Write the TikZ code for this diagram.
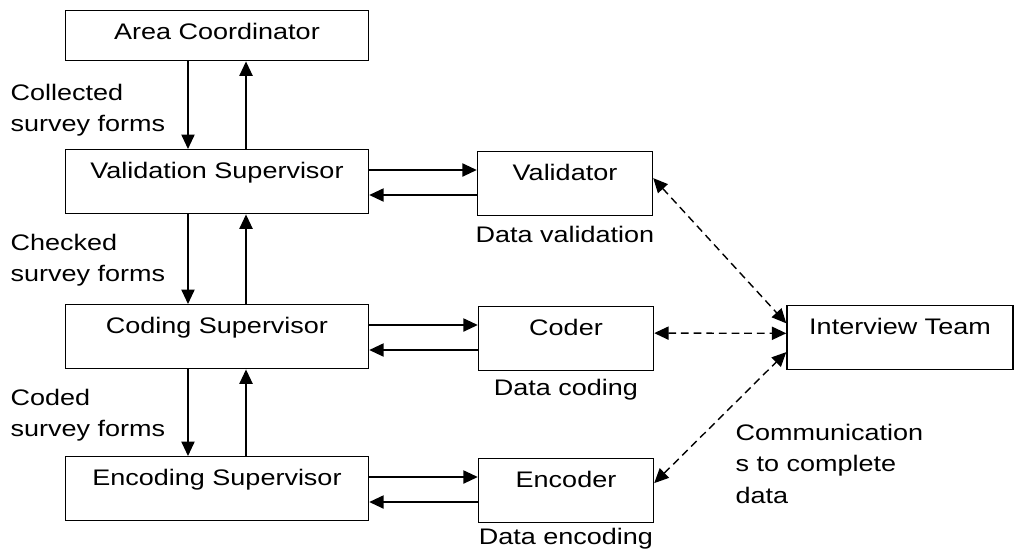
\documentclass[tikz,border=0pt]{standalone}
\usepackage{fontspec}
\setmainfont{Liberation Sans}[FakeStretch=1.2]
\usetikzlibrary{arrows.meta,calc}

\begin{document}
\begin{tikzpicture}[x=0.025cm, y=-0.025cm,
    font=\fontsize{16pt}{22.7pt}\selectfont,
    line width=1pt,
    >={Triangle[length=0.36cm,width=0.33cm]},
    box/.style={draw, inner sep=0pt, anchor=north, text height=0.725cm, text depth=0.875cm},
    bigbox/.style={box, minimum width=7.575cm},
    smallbox/.style={box, minimum width=4.375cm},
    task/.style={anchor=north, inner sep=0pt},
    note/.style={anchor=north west, inner sep=0pt, align=left},
    talk/.style={<->, dash pattern=on 5.5pt off 3.5pt}]
    \useasboundingbox (0,0) rectangle (1017,552);
    \node[bigbox, text depth=0.525cm] (Area Coordinator) at (217, 10) {Area Coordinator};
    \node[bigbox] (Validation Supervisor) at (217, 149) {Validation Supervisor};
    \node[bigbox] (Coding Supervisor) at (217, 304) {Coding Supervisor};
    \node[bigbox] (Encoding Supervisor) at (217, 456) {Encoding Supervisor};
    \node[smallbox] (Validator) at (565, 151) {Validator};
    \node[smallbox] (Coder) at (566, 306) {Coder};
    \node[smallbox] (Encoder) at (566, 458) {Encoder};
    \node[box, minimum width=5.65cm] (Interview Team) at (900, 305) {Interview Team};
    \node[task] (Validation Task) at ($(Validator.south)+(0,9)$) {Data validation};
    \node[task] (Coding Task) at ($(Coder.south)+(0,7)$) {Data coding};
    \node[task] (Encoding Task) at ($(Encoder.south)+(0,4)$) {Data encoding};
    \node[note] (Collected Forms) at (10, 83) {Collected\\survey forms};
    \node[note] (Checked Forms) at (10, 233) {Checked\\survey forms};
    \node[note] (Coded Forms) at (10, 388) {Coded\\survey forms};
    \node[note] (Communications) at (735, 423) {Communication\\s to complete\\data};
    % up and down the chain
    \draw[->] ([xshift=-0.725cm]Area Coordinator.south) -- ([xshift=-0.725cm]Validation Supervisor.north);
    \draw[->] ([xshift=0.725cm]Validation Supervisor.north) -- ([xshift=0.725cm]Area Coordinator.south);
    \draw[->] ([xshift=-0.725cm]Validation Supervisor.south) -- ([xshift=-0.725cm]Coding Supervisor.north);
    \draw[->] ([xshift=0.725cm]Coding Supervisor.north) -- ([xshift=0.725cm]Validation Supervisor.south);
    \draw[->] ([xshift=-0.725cm]Coding Supervisor.south) -- ([xshift=-0.725cm]Encoding Supervisor.north);
    \draw[->] ([xshift=0.725cm]Encoding Supervisor.north) -- ([xshift=0.725cm]Coding Supervisor.south);
    % supervisors and workers
    \draw[->] ([yshift=-0.525cm]Validation Supervisor.north east) -- ([yshift=-0.525cm]Validator.west |- Validation Supervisor.north east);
    \draw[->] ([yshift=-1.15cm]Validator.west |- Validation Supervisor.north east) -- ([yshift=-1.15cm]Validation Supervisor.north east);
    \draw[->] ([yshift=-0.525cm]Coding Supervisor.north east) -- ([yshift=-0.525cm]Coder.west |- Coding Supervisor.north east);
    \draw[->] ([yshift=-1.15cm]Coder.west |- Coding Supervisor.north east) -- ([yshift=-1.15cm]Coding Supervisor.north east);
    \draw[->] ([yshift=-0.525cm]Encoding Supervisor.north east) -- ([yshift=-0.525cm]Encoder.west |- Encoding Supervisor.north east);
    \draw[->] ([yshift=-1.15cm]Encoder.west |- Encoding Supervisor.north east) -- ([yshift=-1.15cm]Encoding Supervisor.north east);
    % talking to the interview team
    \draw[talk] ([yshift=0.14cm]Validator.east) -- ([yshift=0.36cm]Interview Team.west);
    \draw[talk] ([yshift=0.14cm]Coder.east) -- ([yshift=0.11cm]Interview Team.west);
    \draw[talk] ([yshift=0.19cm]Encoder.east) -- ([yshift=-0.36cm]Interview Team.west);
\end{tikzpicture}
\end{document}
